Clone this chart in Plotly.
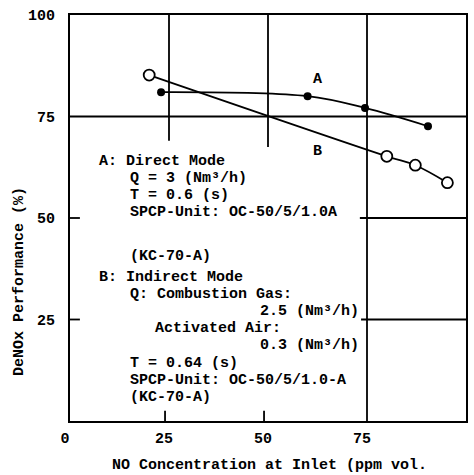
import plotly.graph_objects as go

# ---- data ----
a_x = [23, 60, 74.5, 90.4]
a_y = [81.0, 80.0, 77.1, 72.6]
b_x = [20, 80, 87.2, 95.3]
b_y = [85.2, 65.2, 63.0, 58.7]
x_ticks = [0, 25, 50, 75, 100]
y_ticks = [25, 50, 75, 100]

FONT = "Liberation Mono"
FS = 15
TXT = dict(family=FONT, size=FS, color="black", weight="bold")

# plot area in pixels (for layout text placement)
L, R, T, B = 70, 466, 15, 421
def px(xp):
    return (xp - L) / (R - L)
def py(yp):
    return (B - yp) / (B - T)

fig = go.Figure()
fig.add_trace(go.Scatter(x=a_x, y=a_y, mode="lines+markers", line=dict(color="black", width=1.8, shape="spline"),
                         marker=dict(color="black", size=8), showlegend=False))
fig.add_trace(go.Scatter(x=b_x, y=b_y, mode="lines+markers", line=dict(color="black", width=1.8, shape="spline"),
                         marker=dict(color="white", size=11, line=dict(color="black", width=1.8)), showlegend=False))

shapes = []
def seg(x0, y0, x1, y1, w=1.8):
    shapes.append(dict(type="line", xref="x", yref="y", x0=x0, y0=y0, x1=x1, y1=y1,
                       line=dict(color="black", width=w), layer="below"))
seg(25, 100, 25, 69)
seg(50, 100, 50, 67.5)
seg(75, 0, 75, 100)
seg(0, 75, 100, 75, 2.2)
seg(73.2, 50, 100, 50)
seg(73.5, 25, 100, 25)
seg(0, 50, 2.5, 50)
seg(0, 25, 2.5, 25)
seg(24, 0, 24, 2.5)
seg(49, 0, 49, 2.5)

ann = []
def txt(x, y, s):
    ann.append(dict(x=px(x), y=py(y), xref="paper", yref="paper", text=s, showarrow=False,
                    xanchor="left", yanchor="middle", font=TXT))

txt(97, 161, "A: Direct Mode")
txt(128, 178, "Q = 3 (Nm³/h)")
txt(128, 195, "T = 0.6 (s)")
txt(128, 212, "SPCP-Unit: OC-50/5/1.0A")
txt(128, 256, "(KC-70-A)")
txt(97, 277, "B: Indirect Mode")
txt(128, 294, "Q: Combustion Gas:")
txt(258, 311, "2.5 (Nm³/h)")
txt(153, 328, "Activated Air:")
txt(258, 345, "0.3 (Nm³/h)")
txt(128, 363, "T = 0.64 (s)")
txt(128, 380, "SPCP-Unit: OC-50/5/1.0-A")
txt(128, 397, "(KC-70-A)")
# curve labels
ann.append(dict(x=62.6, y=84, xref="x", yref="y", text="A", showarrow=False, font=TXT))
ann.append(dict(x=62.6, y=66.5, xref="x", yref="y", text="B", showarrow=False, font=TXT))
# axis titles
ann.append(dict(x=px(19), y=py(282), xref="paper", yref="paper", text="DeNOx Performance (%)",
                textangle=-90, showarrow=False, xanchor="center", yanchor="middle", font=TXT))
txt(110, 465, "NO Concentration at Inlet (ppm vol.")

fig.update_layout(
    width=474, height=475,
    margin=dict(l=L, r=474 - R, t=T, b=475 - B, autoexpand=False),
    paper_bgcolor="white", plot_bgcolor="white",
    shapes=shapes, annotations=ann,
    font=TXT,
    xaxis=dict(range=[0, 100], tickvals=x_ticks, ticktext=[str(v) for v in x_ticks], showgrid=False,
               zeroline=False, showline=True, linecolor="black", linewidth=2, mirror=True, ticks="",
               tickfont=TXT, automargin=False, ticklabelstandoff=2, ticklabelshift=-5),
    yaxis=dict(range=[0, 100], tickvals=y_ticks, ticktext=[str(v) for v in y_ticks], showgrid=False,
               zeroline=False, showline=True, linecolor="black", linewidth=2, mirror=True, ticks="",
               tickfont=TXT, automargin=False, ticklabelstandoff=10),
)
fig.write_html("out.html", config={"displayModeBar": False},
               post_script="document.body.style.margin='0px';document.body.style.overflow='hidden';")
